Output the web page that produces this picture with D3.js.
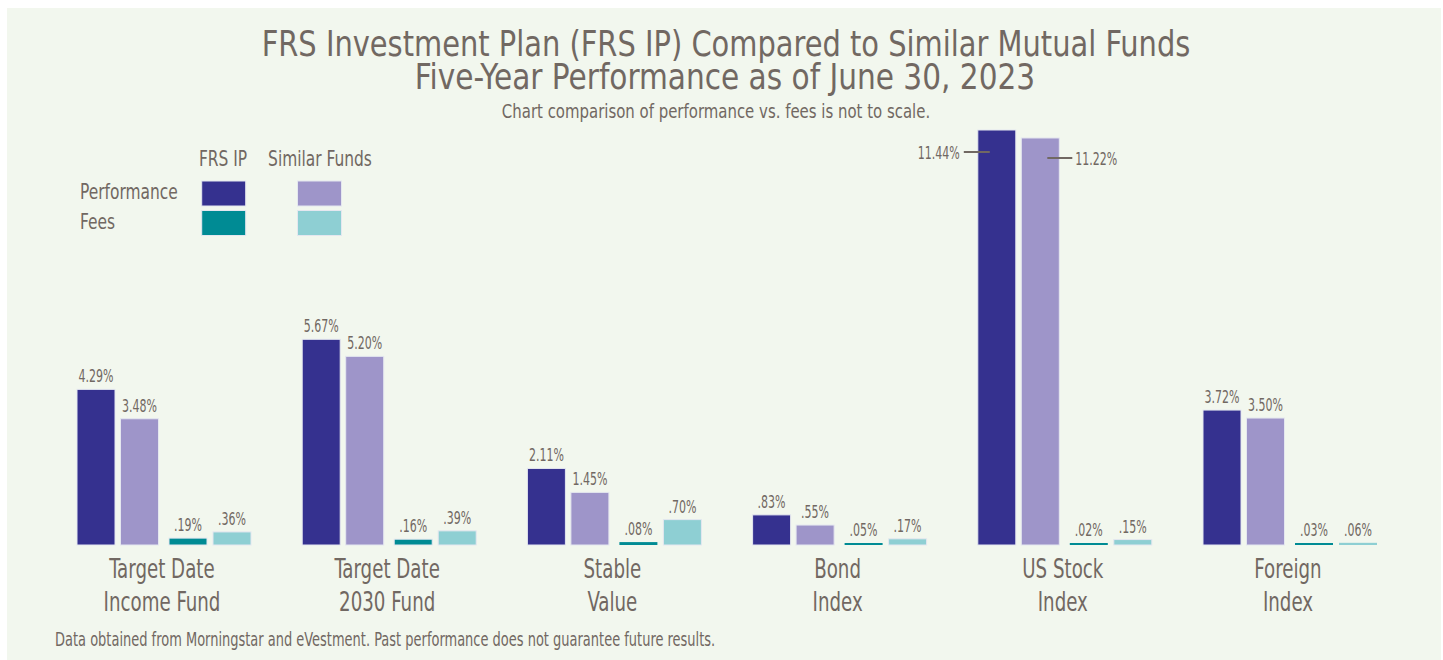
<!DOCTYPE html>
<html>
<head>
<meta charset="utf-8">
<script src="https://cdn.jsdelivr.net/npm/d3@7"></script>
<style>
  body { margin: 0; background: #ffffff; }
  svg text { font-family: "Liberation Sans Narrow", "DejaVu Sans Condensed", "Roboto Condensed", sans-serif; fill: #716862; }
</style>
</head>
<body>
<svg id="chart" width="1443" height="660"></svg>
<script>
// chart data
const fundLine1 = ["Target Date", "Target Date", "Stable", "Bond", "US Stock", "Foreign"];
const fundLine2 = ["Income Fund", "2030 Fund", "Value", "Index", "Index", "Index"];
const frsPerformance = [4.29, 5.67, 2.11, 0.83, 11.44, 3.72];
const similarPerformance = [3.48, 5.20, 1.45, 0.55, 11.22, 3.50];
const frsFees = [0.19, 0.16, 0.08, 0.05, 0.02, 0.03];
const similarFees = [0.36, 0.39, 0.70, 0.17, 0.15, 0.06];
const perfLabels = ["4.29%", "5.67%", "2.11%", ".83%", "11.44%", "3.72%"];
const simPerfLabels = ["3.48%", "5.20%", "1.45%", ".55%", "11.22%", "3.50%"];
const frsFeeLabels = [".19%", ".16%", ".08%", ".05%", ".02%", ".03%"];
const simFeeLabels = [".36%", ".39%", ".70%", ".17%", ".15%", ".06%"];

const seriesNames = ["frsPerf", "simPerf", "frsFee", "simFee"];
const colors = { frsPerf: "#35318f", simPerf: "#9e95c9", frsFee: "#008b94", simFee: "#8ecfd3" };

const svg = d3.select('#chart');

// squeeze text horizontally so it looks like the narrow font of the original
function condense(sel, factor) {
    sel.each(function () {
        const w = this.getComputedTextLength();
        d3.select(this).attr('textLength', w * factor).attr('lengthAdjust', 'spacingAndGlyphs');
    });
}

// background panel
svg.append('rect')
    .attr('x', 7).attr('y', 8)
    .attr('width', 1434).attr('height', 652)
    .attr('fill', '#f2f7ee');

// titles
svg.append('text').text('FRS Investment Plan (FRS IP) Compared to Similar Mutual Funds')
    .attr('x', 726).attr('y', 56).attr('text-anchor', 'middle').style('font-size', '35px')
    .call(condense, 0.918);
svg.append('text').text('Five-Year Performance as of June 30, 2023')
    .attr('x', 725).attr('y', 89).attr('text-anchor', 'middle').style('font-size', '35px')
    .call(condense, 0.94);
svg.append('text').text('Chart comparison of performance vs. fees is not to scale.')
    .attr('x', 716).attr('y', 118).attr('text-anchor', 'middle').style('font-size', '20px')
    .call(condense, 0.83);

// scales
const x = d3.scaleBand()
    .domain(d3.range(fundLine1.length))
    .range([77, 77 + 225.2 * fundLine1.length]);

const inner = d3.scaleOrdinal()
    .domain(seriesNames)
    .range([0, 43.5, 92, 136]);
const barWidth = 38;

const y = d3.scaleLinear()
    .domain([0, 11.44])
    .range([545, 130]);

const rows = [];
fundLine1.forEach((f, i) => {
    rows.push({ i: i, key: "frsPerf", value: frsPerformance[i], label: perfLabels[i] });
    rows.push({ i: i, key: "simPerf", value: similarPerformance[i], label: simPerfLabels[i] });
    rows.push({ i: i, key: "frsFee", value: frsFees[i], label: frsFeeLabels[i] });
    rows.push({ i: i, key: "simFee", value: similarFees[i], label: simFeeLabels[i] });
});

// thin fee bars keep at least 2px so they stay visible, and skip the light outline
const barH = d => Math.max(2, y(0) - y(d.value));
svg.append('g').selectAll('rect')
    .data(rows)
    .join('rect')
    .attr('x', d => x(d.i) + inner(d.key))
    .attr('y', d => y(0) - barH(d))
    .attr('width', barWidth)
    .attr('height', d => barH(d))
    .attr('fill', d => colors[d.key])
    .attr('stroke', d => barH(d) > 4 ? '#e4e7ef' : 'none')
    .attr('stroke-width', 1);

// value labels (US Stock performance gets leader lines instead)
const usStock = 4;
svg.append('g').selectAll('text')
    .data(rows.filter(d => !(d.i === usStock && (d.key === "frsPerf" || d.key === "simPerf"))))
    .join('text')
    .text(d => d.label)
    .attr('x', d => x(d.i) + inner(d.key) + barWidth / 2)
    .attr('y', d => y(0) - barH(d) - 7)
    .attr('text-anchor', 'middle')
    .style('font-size', '17px')
    .call(condense, 0.72);

const usFrs = rows.find(d => d.i === usStock && d.key === "frsPerf");
const usSim = rows.find(d => d.i === usStock && d.key === "simPerf");
const x1 = x(usStock) + inner("frsPerf");
const x2 = x(usStock) + inner("simPerf");
svg.append('line')
    .attr('x1', x1 - 14).attr('x2', x1 + 12)
    .attr('y1', y(usFrs.value) + 22).attr('y2', y(usFrs.value) + 22)
    .attr('stroke', '#716862').attr('stroke-width', 2);
svg.append('text').text(usFrs.label)
    .attr('x', x1 - 18).attr('y', y(usFrs.value) + 29)
    .attr('text-anchor', 'end').style('font-size', '17px')
    .call(condense, 0.72);
svg.append('line')
    .attr('x1', x2 + 26).attr('x2', x2 + 51)
    .attr('y1', y(usSim.value) + 20).attr('y2', y(usSim.value) + 20)
    .attr('stroke', '#716862').attr('stroke-width', 2);
svg.append('text').text(usSim.label)
    .attr('x', x2 + 54).attr('y', y(usSim.value) + 27)
    .attr('text-anchor', 'start').style('font-size', '17px')
    .call(condense, 0.72);

// category labels, two lines each
const cats = svg.append('g');
cats.selectAll('text.l1')
    .data(fundLine1)
    .join('text')
    .attr('class', 'l1')
    .text(d => d)
    .attr('x', (d, i) => x(i) + 85)
    .attr('y', 578)
    .attr('text-anchor', 'middle')
    .style('font-size', '27px')
    .call(condense, 0.75);
cats.selectAll('text.l2')
    .data(fundLine2)
    .join('text')
    .attr('class', 'l2')
    .text(d => d)
    .attr('x', (d, i) => x(i) + 85)
    .attr('y', 611)
    .attr('text-anchor', 'middle')
    .style('font-size', '27px')
    .call(condense, 0.75);

// legend
const legend = svg.append('g');
legend.append('text').text('FRS IP').attr('x', 223).attr('y', 166).attr('text-anchor', 'middle')
    .style('font-size', '22px').call(condense, 0.78);
legend.append('text').text('Similar Funds').attr('x', 320).attr('y', 166).attr('text-anchor', 'middle')
    .style('font-size', '22px').call(condense, 0.78);
legend.append('text').text('Performance').attr('x', 80).attr('y', 199)
    .style('font-size', '22px').call(condense, 0.78);
legend.append('text').text('Fees').attr('x', 80).attr('y', 229)
    .style('font-size', '22px').call(condense, 0.78);
const swatches = [
    { key: "frsPerf", cx: 223.7, cy: 193.5 },
    { key: "simPerf", cx: 319.5, cy: 193.5 },
    { key: "frsFee", cx: 223.7, cy: 223 },
    { key: "simFee", cx: 319.5, cy: 223 }
];
legend.selectAll('rect')
    .data(swatches)
    .join('rect')
    .attr('x', d => d.cx - 22)
    .attr('y', d => d.cy - 12.5)
    .attr('width', 44)
    .attr('height', 25)
    .attr('fill', d => colors[d.key])
    .attr('stroke', '#e4e7ef');

// footer
svg.append('text').text('Data obtained from Morningstar and eVestment. Past performance does not guarantee future results.')
    .attr('x', 55).attr('y', 646).style('font-size', '19px')
    .call(condense, 0.76);
</script>
</body>
</html>
